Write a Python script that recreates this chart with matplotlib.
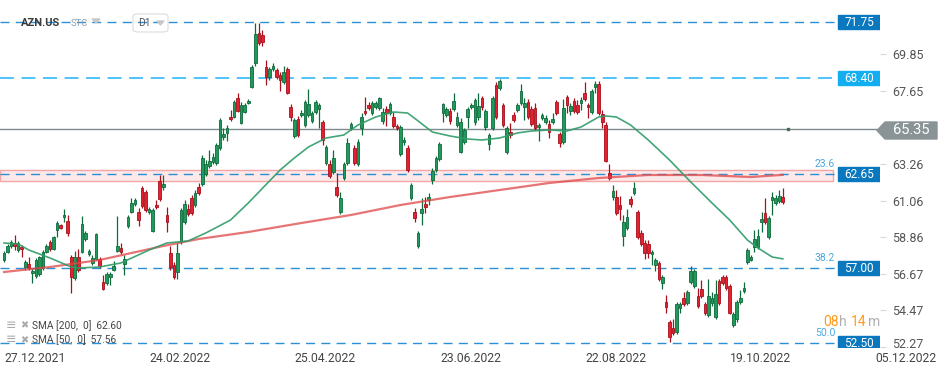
import matplotlib
matplotlib.use("Agg")
import matplotlib.pyplot as plt
from matplotlib.patches import Rectangle, Polygon, FancyBboxPatch
import matplotlib.transforms as mtransforms
import numpy as np

plt.rcParams['font.family'] = ['Roboto', 'DejaVu Sans']
plt.rcParams['lines.scale_dashes'] = False

# daily candles AZN.US
opens = [57.49, 57.97, 58.33, 58.51, 58.09, 58.27, 57.07, 57.25, 56.71, 56.53,
         56.65, 57.01, 57.97, 58.57, 58.15, 59.29, 59.59, 60.07, 59.83, 57.67,
         56.41, 57.67, 57.97, 58.75, 57.85, 57.31, 57.55, 57.55, 56.17, 56.11,
         56.47, 56.89, 58.03, 58.21, 57.25, 59.53, 60.37, 60.85, 60.37, 61.81,
         61.57, 60.37, 59.23, 60.79, 62.23, 61.87, 60.19, 57.91, 57.19, 56.77,
         58.57, 59.77, 60.55, 61.21, 60.79, 61.87, 62.05, 62.65, 63.13, 63.37,
         63.31, 64.21, 64.87, 65.11, 66.07, 66.07, 67.21, 65.71, 66.37, 66.91,
         67.87, 69.31, 71.11, 70.99, 69.07, 68.47, 68.95, 68.89, 68.59, 68.17,
         68.95, 66.67, 64.93, 65.95, 66.19, 65.59, 66.19, 65.83, 66.37, 66.55,
         65.77, 63.31, 63.25, 62.77, 61.87, 60.37, 62.41, 63.31, 65.41, 64.21,
         63.25, 65.41, 66.43, 66.79, 66.31, 66.67, 66.61, 65.83, 66.55, 66.31,
         66.07, 65.53, 63.85, 64.57, 64.21, 61.21, 60.37, 58.33, 60.31, 60.85,
         61.09, 62.29, 62.89, 63.55, 66.31, 66.19, 66.43, 66.55, 65.59, 63.97,
         64.57, 66.07, 66.67, 65.77, 66.07, 67.21, 65.47, 64.45, 65.41, 67.99,
         67.81, 66.79, 63.97, 65.17, 66.19, 66.49, 66.91, 66.67, 66.97, 66.55,
         66.61, 65.47, 66.01, 65.77, 65.65, 65.77, 66.97, 65.05, 64.57, 67.27,
         66.43, 67.03, 66.79, 66.91, 67.51, 66.79, 66.37, 67.87, 68.05, 66.25,
         65.59, 62.71, 61.27, 61.27, 60.79, 58.93, 59.41, 61.15, 61.51, 60.37,
         59.11, 58.51, 58.45, 57.85, 57.19, 57.31, 56.11, 54.97, 53.77, 53.41,
         53.17, 54.61, 55.21, 54.91, 56.17, 55.93, 55.33, 55.75, 54.85, 54.19,
         54.91, 54.07, 56.23, 56.47, 56.47, 55.93, 53.59, 53.95, 54.97, 55.63,
         57.37, 57.49, 58.27, 58.27, 59.77, 60.31, 58.87, 61.09, 60.91, 61.03,
         61.27]
highs = [58.03, 58.45, 58.69, 58.99, 58.63, 58.39, 57.49, 57.67, 56.95, 57.61,
         57.73, 58.09, 58.45, 58.69, 58.93, 59.83, 59.65, 60.55, 60.19, 57.79,
         58.03, 58.15, 60.13, 59.23, 58.15, 57.79, 59.11, 57.67, 56.59, 56.77,
         56.77, 57.43, 60.13, 58.51, 57.79, 60.19, 61.21, 61.21, 60.61, 61.93,
         61.69, 60.67, 60.61, 61.09, 62.59, 62.59, 60.67, 58.33, 57.37, 58.51,
         60.61, 61.09, 60.85, 61.39, 61.69, 62.11, 63.79, 63.49, 64.09, 63.91,
         64.51, 66.01, 65.41, 65.59, 66.49, 67.09, 67.51, 66.97, 66.91, 67.15,
         69.19, 71.71, 71.71, 71.29, 69.49, 69.07, 69.31, 69.01, 68.77, 69.13,
         69.07, 66.85, 66.01, 66.13, 66.49, 67.09, 67.75, 66.43, 67.09, 66.91,
         65.89, 64.39, 63.49, 64.09, 62.71, 61.57, 63.37, 64.81, 65.77, 64.39,
         64.75, 66.31, 67.27, 66.97, 67.03, 67.03, 67.27, 66.61, 66.73, 66.97,
         66.37, 65.65, 65.59, 64.87, 64.39, 62.11, 60.61, 59.23, 61.21, 61.27,
         61.51, 63.01, 63.73, 64.57, 66.91, 66.67, 66.61, 67.51, 66.37, 66.01,
         65.41, 66.67, 66.91, 67.21, 67.51, 67.33, 66.55, 65.11, 67.33, 68.17,
         68.35, 66.91, 65.53, 65.71, 66.37, 66.91, 68.05, 67.21, 67.15, 66.73,
         66.91, 65.71, 66.31, 66.19, 65.89, 66.31, 67.09, 65.17, 67.15, 67.39,
         66.91, 67.21, 67.09, 67.27, 68.17, 66.91, 67.75, 68.23, 68.23, 66.49,
         65.77, 63.25, 61.99, 61.69, 61.33, 60.19, 60.55, 61.33, 62.17, 60.49,
         59.29, 58.69, 58.69, 58.09, 57.61, 57.43, 56.59, 55.39, 53.89, 53.95,
         54.97, 54.97, 55.57, 55.69, 57.13, 56.95, 55.81, 56.29, 54.97, 56.35,
         55.57, 56.29, 56.35, 56.59, 56.59, 56.05, 54.37, 55.09, 55.69, 56.17,
         58.21, 57.79, 59.29, 59.35, 60.37, 61.21, 60.13, 61.57, 61.39, 61.69,
         61.81]
lows = [57.37, 57.91, 58.21, 58.09, 57.97, 57.67, 56.89, 56.89, 56.11, 56.41,
        56.53, 56.89, 57.91, 58.03, 58.09, 58.87, 59.35, 59.77, 58.93, 55.51,
        56.29, 56.77, 57.91, 58.63, 57.73, 57.19, 57.49, 57.01, 55.69, 55.99,
        55.99, 56.83, 57.97, 57.85, 56.59, 59.41, 60.31, 60.73, 59.53, 60.61,
        60.37, 60.25, 59.17, 60.55, 61.03, 61.69, 59.17, 56.89, 56.35, 56.35,
        58.45, 59.65, 60.13, 60.19, 60.67, 61.39, 61.93, 62.53, 63.01, 63.25,
        63.19, 64.09, 64.69, 64.63, 65.83, 66.01, 66.37, 65.65, 66.31, 66.85,
        67.81, 69.13, 70.39, 70.33, 67.99, 68.29, 68.83, 68.35, 67.63, 68.05,
        67.45, 65.83, 64.81, 64.87, 66.07, 65.47, 66.07, 65.71, 66.25, 65.41,
        64.39, 63.19, 62.41, 62.65, 61.27, 60.25, 62.29, 63.19, 65.29, 63.19,
        63.13, 64.99, 66.19, 66.49, 66.19, 66.55, 66.49, 65.65, 65.53, 66.19,
        65.41, 65.29, 63.73, 64.39, 62.77, 61.09, 59.77, 58.21, 59.59, 60.31,
        60.79, 62.05, 62.77, 63.43, 65.77, 66.07, 65.65, 66.43, 65.47, 63.91,
        64.45, 65.41, 66.55, 65.59, 65.89, 66.49, 65.29, 64.09, 65.29, 65.95,
        67.69, 65.47, 63.85, 64.81, 65.77, 66.37, 66.79, 65.89, 65.95, 65.53,
        65.29, 64.63, 65.89, 65.65, 64.81, 65.65, 66.19, 64.27, 64.45, 66.31,
        66.19, 66.31, 66.25, 66.49, 67.03, 66.01, 66.25, 67.51, 66.19, 65.41,
        63.37, 62.29, 61.09, 60.19, 59.89, 58.33, 59.29, 60.67, 61.39, 58.75,
        58.33, 57.55, 57.61, 57.19, 56.83, 56.23, 55.75, 54.31, 52.57, 52.99,
        53.05, 54.31, 54.73, 54.79, 56.05, 55.81, 54.61, 55.21, 54.19, 54.07,
        54.73, 53.95, 54.79, 55.99, 55.69, 54.25, 53.47, 53.77, 54.85, 55.51,
        57.25, 57.43, 57.97, 58.15, 59.17, 59.65, 58.75, 60.19, 60.79, 60.91,
        60.85]
closes = [57.91, 58.33, 58.57, 58.33, 58.51, 58.15, 57.37, 57.01, 56.83, 57.49,
          57.67, 57.97, 58.33, 58.15, 58.87, 59.71, 59.41, 60.19, 59.11, 56.47,
          57.67, 56.89, 59.65, 59.11, 58.03, 57.61, 59.05, 57.13, 55.75, 56.65,
          56.65, 57.13, 58.33, 57.97, 57.55, 60.07, 60.91, 61.09, 59.89, 60.73,
          60.49, 60.55, 60.49, 60.67, 61.15, 62.05, 59.77, 57.07, 56.47, 57.91,
          60.49, 60.85, 60.25, 60.31, 61.51, 61.51, 63.61, 63.25, 63.43, 63.67,
          64.39, 65.89, 65.05, 65.41, 65.95, 66.97, 66.43, 66.79, 66.79, 67.03,
          69.07, 71.05, 70.51, 70.57, 68.47, 68.95, 69.13, 68.47, 68.29, 68.77,
          67.51, 66.07, 65.89, 64.99, 66.31, 66.97, 66.85, 66.31, 66.97, 66.79,
          64.69, 64.27, 62.53, 63.61, 61.39, 61.21, 63.25, 64.51, 65.65, 63.31,
          64.57, 66.07, 66.31, 66.61, 66.91, 66.91, 67.21, 66.37, 66.31, 66.85,
          65.53, 65.41, 65.47, 64.69, 62.89, 61.99, 59.99, 59.11, 60.55, 60.67,
          61.27, 62.83, 63.61, 64.45, 66.85, 66.55, 65.83, 67.03, 66.07, 65.77,
          65.29, 66.55, 66.79, 67.09, 66.73, 66.67, 66.43, 64.99, 67.21, 66.07,
          68.23, 65.59, 65.41, 64.99, 65.89, 66.79, 67.63, 66.91, 66.07, 65.65,
          65.41, 65.59, 66.19, 66.01, 65.17, 65.95, 66.31, 64.51, 66.61, 66.79,
          66.73, 66.43, 66.37, 67.09, 67.15, 66.67, 67.63, 68.05, 66.31, 65.77,
          63.43, 62.41, 61.63, 60.31, 60.55, 59.77, 60.07, 60.85, 61.81, 58.87,
          58.45, 57.91, 57.91, 57.97, 57.49, 56.35, 56.47, 54.67, 52.87, 53.11,
          54.85, 54.85, 54.85, 55.57, 56.83, 56.83, 54.73, 55.33, 54.31, 55.33,
          55.21, 55.45, 54.91, 56.11, 55.81, 54.31, 54.25, 54.97, 55.21, 55.81,
          58.09, 57.67, 58.75, 58.93, 59.95, 59.77, 60.01, 61.27, 61.21, 61.33,
          60.97]

# moving averages sampled from the chart (bar index -> value)
sma200_idx = [0, 13, 27, 45, 55, 69, 84, 98, 112, 126, 140, 154, 168, 182, 197, 211, 220]
sma200_val = [56.77, 57.07, 57.49, 58.33, 58.75, 59.17, 59.71, 60.19, 60.79, 61.27,
              61.69, 62.11, 62.41, 62.59, 62.59, 62.47, 62.60]
sma50_idx = [0, 4, 7, 13, 19, 21, 27, 33, 41, 46, 52, 57, 64, 69, 72, 78, 82, 86, 91, 96,
             100, 105, 110, 114, 117, 121, 126, 131, 135, 140, 145, 149, 154, 159, 163,
             168, 170, 173, 177, 182, 188, 194, 200, 205, 210, 213, 217, 220]
sma50_val = [58.51, 58.45, 58.09, 57.61, 57.07, 57.01, 57.07, 57.31, 58.09, 58.51,
             58.63, 59.11, 59.89, 60.91, 61.57, 62.89, 63.61, 64.27, 64.81, 64.99,
             65.59, 66.07, 66.37, 66.31, 65.83, 65.17, 64.93, 64.75, 64.69, 64.81,
             65.11, 65.23, 65.29, 65.23, 65.47, 66.07, 66.13, 66.07, 65.59, 64.69,
             63.49, 62.17, 60.91, 59.89, 58.69, 58.21, 57.67, 57.56]

date_labels = ['27.12.2021', '24.02.2022', '25.04.2022', '23.06.2022',
               '22.08.2022', '19.10.2022', '05.12.2022']
date_idx = [8.8 + 41 * k for k in range(len(date_labels))]

ytick_vals = [69.85, 67.65, 63.26, 61.06, 58.86, 56.67, 54.47, 52.27]

levels = [71.75, 62.65, 57.00, 52.50]
level_fib = {62.65: '23.6', 57.00: '38.2', 52.50: '50.0'}
level_hi = 68.40
last_price = 65.35
zone = (62.23, 62.89)

W, H = 949, 373
fig = plt.figure(figsize=(W / 100, H / 100), dpi=100)
ax = fig.add_axes([0, 25 / H, 880 / W, 348 / H])


def fx(px):
    return px / W


def fy(py):
    return 1 - py / H


o = np.array(opens)
h = np.array(highs)
l = np.array(lows)
c = np.array(closes)
x = np.arange(len(c))
up = c >= o

g_body, g_edge = '#1f9a5b', '#0e6a3c'
r_body, r_edge = '#e2232f', '#a8101d'

ax.vlines(x, l, h, colors=np.where(up, g_edge, r_edge), lw=0.9, zorder=3)
ax.bar(x, np.maximum(np.abs(c - o), 0.07), bottom=np.minimum(o, c), width=0.74,
       color=np.where(up, g_body, r_body), edgecolor=np.where(up, g_edge, r_edge),
       linewidth=0.6, zorder=4)

ax.plot(sma200_idx, sma200_val, color='#e04646', lw=1.6, alpha=0.75, zorder=5)
ax.plot(sma50_idx, sma50_val, color='#2f9c69', lw=1.2, alpha=0.9, zorder=5)

# resistance zone
ax.axhspan(zone[0], zone[1], xmax=833 / 880, facecolor='#fde9e9',
           edgecolor='#f4a6a6', lw=1, zorder=1)

yt = ax.get_yaxis_transform()
for lv in levels:
    ax.axhline(lv, xmax=838 / 880, color='#2b8fd6', lw=1, dashes=(6.5, 4.5), zorder=2)
    ax.add_patch(Rectangle((838 / 880, lv - 0.42), 42 / 880, 0.84, transform=yt,
                           color='#0a78be', zorder=6))
    ax.text(859 / 880, lv, f'{lv:.2f}', transform=yt, ha='center', va='center',
            color='white', fontsize=8.5, zorder=7, clip_on=True)
    if lv in level_fib:
        ax.text(825 / 880, lv + 0.6, level_fib[lv], transform=yt, ha='center',
                va='center', color='#4aa8e0', fontsize=7.5, zorder=7)

ax.axhline(level_hi, xmax=838 / 880, color='#4fc3f7', lw=1.4, dashes=(10, 5.5), zorder=2)
ax.add_patch(Rectangle((838 / 880, level_hi - 0.42), 42 / 880, 0.84, transform=yt,
                       color='#12aef0', zorder=6))
ax.text(859 / 880, level_hi, f'{level_hi:.2f}', transform=yt, ha='center', va='center',
        color='white', fontsize=8.5, zorder=7)

ax.axhline(last_price, color='#7d8b8f', lw=1, zorder=2)
ax.plot([len(c) + 0.5], [last_price], 's', ms=2, color='#3f6b58', zorder=6)

ax.set_xlim(-4 / 3.54, 876 / 3.54)
ax.set_ylim(52.21, 73.09)
for s in ax.spines.values():
    s.set_visible(False)

ax.set_xticks([])
for xi, lab in zip(date_idx, date_labels):
    ax.text(xi, -4 / 348, lab, transform=ax.get_xaxis_transform(), ha='center',
            va='top', color='#444444', fontsize=8.7, clip_on=False)

ax.yaxis.tick_right()
ax.set_yticks(ytick_vals)
ax.set_yticklabels([f'{v:.2f}' for v in ytick_vals])
ax.tick_params(axis='y', length=4, color='#d8d8d8', labelcolor='#555555',
               labelsize=9, pad=5)
last_lbl = ax.get_yticklabels()[-1]
last_lbl.set_transform(last_lbl.get_transform() +
                       mtransforms.ScaledTranslation(0, 4 / 100, fig.dpi_scale_trans))

# current price tag
tag = Polygon([(fx(877), fy(130.5)), (fx(885), fy(122)), (fx(937), fy(122)),
               (fx(937), fy(139)), (fx(885), fy(139))], closed=True,
              transform=fig.transFigure, color='#8a9497', zorder=10)
fig.add_artist(tag)
fig.text(fx(911), fy(130.5), f'{last_price:.2f}', ha='center', va='center',
         color='white', fontsize=10.5, zorder=11)

# header
fig.text(fx(21), fy(23), 'AZN.US', weight='bold', fontsize=8, color='#3a3a3a', va='center')
fig.text(fx(71), fy(24), 'STC', fontsize=6.8, color='#8fa0b0', va='center')
fig.add_artist(Polygon([(fx(92), fy(19)), (fx(100), fy(19)), (fx(96), fy(23))],
                       transform=fig.transFigure, color='#c8c8c8'))
fig.add_artist(FancyBboxPatch((fx(133), fy(32)), fx(35), 18 / H,
                              boxstyle='round,pad=0,rounding_size=0.006',
                              transform=fig.transFigure, facecolor='none',
                              edgecolor='#dcdcdc', lw=0.8))
fig.text(fx(138), fy(23.5), 'D1', fontsize=7.5, color='#555555', va='center')
fig.add_artist(Polygon([(fx(157), fy(21)), (fx(164), fy(21)), (fx(160.5), fy(25))],
                       transform=fig.transFigure, color='#c8c8c8'))

# indicator legend
for yy, lab in [(325.5, 'SMA [200,  0]  62.60'), (340, 'SMA [50,  0]  57.56')]:
    fig.text(fx(6), fy(yy), '≡', fontsize=9, color='#aaaaaa', va='center')
    fig.text(fx(20), fy(yy), '✖', fontsize=7, color='#aaaaaa', va='center')
    fig.text(fx(32), fy(yy), lab, fontsize=7.3, color='#444444', va='center')

# candle timer
for xx, txt, col in [(823, '08', '#ff9a1a'), (839, 'h', '#b0b0b0'),
                     (851, '14', '#ff9a1a'), (868, 'm', '#b0b0b0')]:
    fig.text(fx(xx), fy(322), txt, fontsize=10, color=col, va='center')

fig.savefig('out.png', dpi=100)
